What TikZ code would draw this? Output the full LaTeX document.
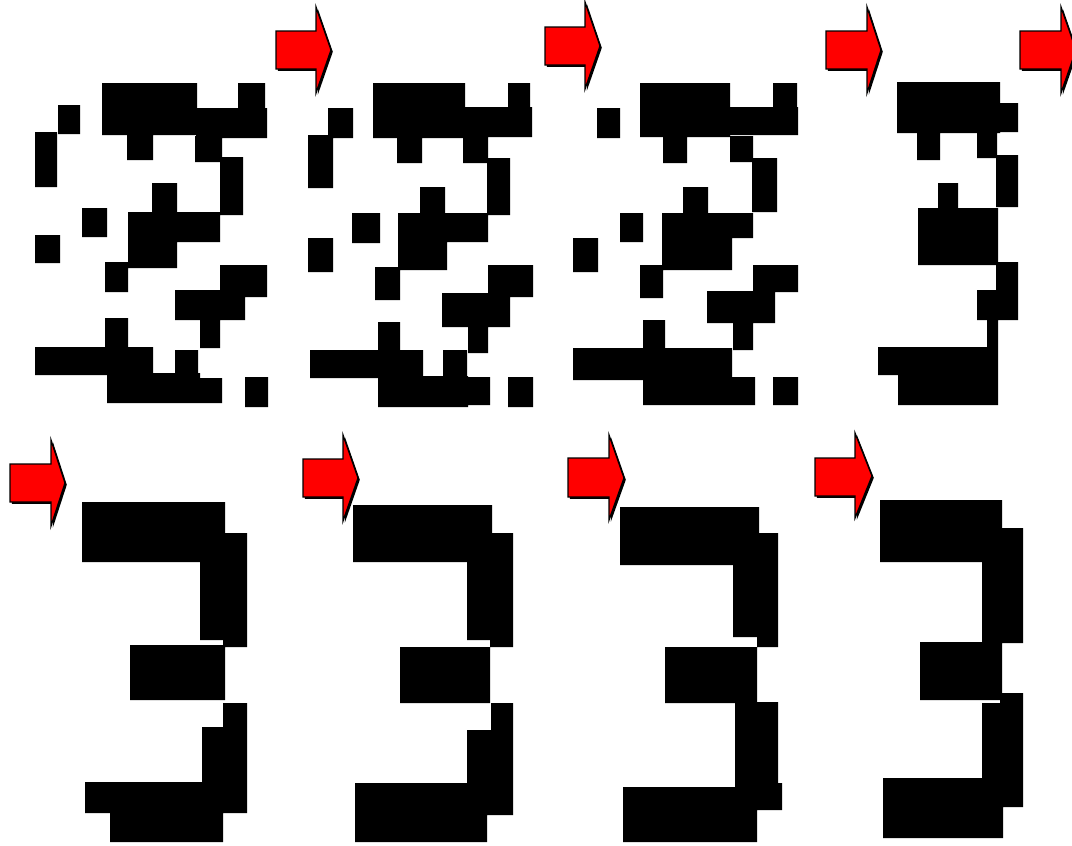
\documentclass[tikz,border=0pt]{standalone}
\usetikzlibrary{calc}
\definecolor{arrred}{RGB}{255,0,0}
\tikzset{
  pix/.style={fill=black},
  arrbody/.style={fill=arrred, draw=black, line width=1.3pt, line join=miter},
  arrshadow/.style={fill=black}
}
% x0 = shaft left, xb = head base, xt = tip, hT head top, sT shaft top, ty tip y, sB shaft bottom, hB head bottom
\newcommand\redarr[8]{%
  \fill[arrshadow] ($(#1,#5)+(1.8,1.8)$) -- ($(#2,#5)+(1.8,1.8)$) -- ($(#2,#4)+(1.8,1.8)$) -- ($(#3,#6)+(1.8,1.8)$) -- ($(#2,#8)+(1.8,1.8)$) -- ($(#2,#7)+(1.8,1.8)$) -- ($(#1,#7)+(1.8,1.8)$) -- cycle;
  \draw[arrbody] (#1,#5) -- (#2,#5) -- (#2,#4) -- (#3,#6) -- (#2,#8) -- (#2,#7) -- (#1,#7) -- cycle;
}
\begin{document}
\begin{tikzpicture}[x=1pt,y=-1pt]
\useasboundingbox (0,0) rectangle (1072,846);
\fill[white] (0,0) rectangle (1072,846);

% ---------- top row, panel 1 ----------
\fill[pix]
 (102,83) rectangle (197,135)
 (196,108) rectangle (267,138)
 (238,83) rectangle (265,110)
 (58,105) rectangle (80,134)
 (35,132) rectangle (57,187)
 (127,134) rectangle (153,160)
 (195,136) rectangle (222,162)
 (220,157) rectangle (243,215)
 (152,183) rectangle (177,214)
 (82,208) rectangle (107,237)
 (128,212) rectangle (220,242)
 (128,240) rectangle (177,268)
 (35,235) rectangle (60,263)
 (105,262) rectangle (128,292)
 (220,265) rectangle (267,297)
 (175,290) rectangle (245,320)
 (200,318) rectangle (220,348)
 (105,318) rectangle (128,349)
 (35,347) rectangle (153,375)
 (107,373) rectangle (200,403)
 (175,350) rectangle (198,379)
 (198,378) rectangle (222,403)
 (245,377) rectangle (268,407);

% ---------- top row, panel 2 ----------
\fill[pix]
 (373,83) rectangle (465,138)
 (464,107) rectangle (532,137)
 (508,83) rectangle (530,109)
 (328,108) rectangle (353,138)
 (308,135) rectangle (333,188)
 (397,136) rectangle (422,163)
 (463,136) rectangle (488,163)
 (487,158) rectangle (510,215)
 (420,187) rectangle (445,215)
 (352,213) rectangle (380,243)
 (398,213) rectangle (488,242)
 (398,240) rectangle (447,270)
 (308,238) rectangle (333,272)
 (375,267) rectangle (400,300)
 (488,265) rectangle (533,297)
 (442,293) rectangle (510,327)
 (468,325) rectangle (488,353)
 (378,322) rectangle (400,352)
 (310,350) rectangle (423,378)
 (378,376) rectangle (468,407)
 (443,350) rectangle (467,379)
 (465,377) rectangle (490,405)
 (508,377) rectangle (533,407);

% ---------- top row, panel 3 ----------
\fill[pix]
 (640,83) rectangle (730,137)
 (729,107) rectangle (798,135)
 (773,83) rectangle (797,109)
 (597,108) rectangle (620,138)
 (663,136) rectangle (687,163)
 (730,136) rectangle (753,162)
 (752,158) rectangle (777,212)
 (683,187) rectangle (708,215)
 (620,213) rectangle (643,242)
 (662,213) rectangle (753,238)
 (662,236) rectangle (732,270)
 (573,238) rectangle (598,272)
 (640,265) rectangle (663,298)
 (753,265) rectangle (798,292)
 (707,291) rectangle (775,323)
 (733,321) rectangle (753,350)
 (643,320) rectangle (665,350)
 (573,348) rectangle (732,380)
 (643,377) rectangle (755,405)
 (773,377) rectangle (798,405);

% ---------- top row, panel 4 ----------
\fill[pix]
 (897,82) rectangle (1000,133)
 (998,103) rectangle (1018,132)
 (917,131) rectangle (940,160)
 (977,131) rectangle (997,158)
 (996,155) rectangle (1018,207)
 (938,183) rectangle (958,211)
 (918,208) rectangle (998,265)
 (996,262) rectangle (1018,320)
 (977,290) rectangle (1018,320)
 (987,318) rectangle (998,349)
 (878,347) rectangle (998,375)
 (898,373) rectangle (998,405);

% ---------- bottom row, panel 1 ----------
\fill[pix]
 (82,502) rectangle (225,562)
 (223,533) rectangle (247,647)
 (200,560) rectangle (225,640)
 (130,645) rectangle (225,700)
 (223,703) rectangle (247,813)
 (202,727) rectangle (225,784)
 (85,782) rectangle (247,813)
 (110,811) rectangle (223,842);

% ---------- bottom row, panel 2 ----------
\fill[pix]
 (353,505) rectangle (492,562)
 (490,533) rectangle (513,647)
 (467,560) rectangle (492,640)
 (400,647) rectangle (490,703)
 (491,703) rectangle (513,815)
 (467,730) rectangle (495,785)
 (355,783) rectangle (513,815)
 (355,813) rectangle (487,842);

% ---------- bottom row, panel 3 ----------
\fill[pix]
 (620,507) rectangle (759,565)
 (757,533) rectangle (778,647)
 (733,563) rectangle (759,637)
 (665,647) rectangle (757,703)
 (735,702) rectangle (778,789)
 (757,783) rectangle (782,810)
 (623,787) rectangle (757,842);

% ---------- bottom row, panel 4 ----------
\fill[pix]
 (880,500) rectangle (1002,562)
 (1000,528) rectangle (1023,643)
 (982,560) rectangle (1002,642)
 (920,642) rectangle (1002,700)
 (1000,693) rectangle (1023,807)
 (982,703) rectangle (1002,780)
 (883,778) rectangle (1023,807)
 (883,805) rectangle (1003,838);

% ---------- arrows ----------
\redarr{276}{316}{331}{7}{31}{50}{69}{93}
\redarr{545}{585}{600}{2}{27}{46}{65}{89}
\redarr{826}{867}{881}{7}{31}{50}{69}{93}
\redarr{1020}{1061}{1076}{7}{31}{50}{69}{93}
\redarr{10}{51}{65}{440}{464}{483}{502}{526}
\redarr{303}{343}{358}{435}{459}{478}{497}{521}
\redarr{568}{609}{624}{435}{458}{478}{497}{520}
\redarr{815}{855}{872}{433}{458}{476}{496}{518}
\end{tikzpicture}
\end{document}
